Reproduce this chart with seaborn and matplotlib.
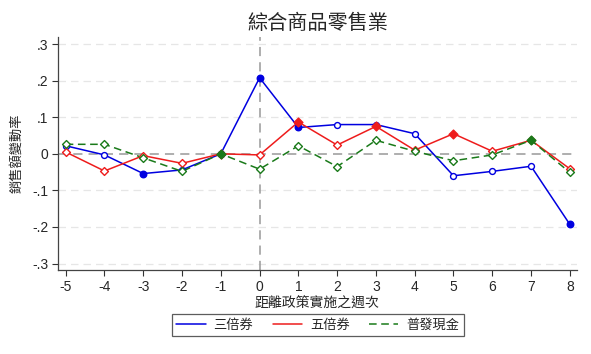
import matplotlib
matplotlib.use("Agg")
import matplotlib.pyplot as plt
import seaborn as sns
import pandas as pd
from matplotlib.lines import Line2D

weeks = [-5, -4, -3, -2, -1, 0, 1, 2, 3, 4, 5, 6, 7, 8]
triple = [0.022, -0.003, -0.054, -0.044, 0.0, 0.208, 0.072, 0.080, 0.080, 0.055, -0.060, -0.048, -0.034, -0.193]
quint = [0.005, -0.047, -0.005, -0.026, 0.0, -0.003, 0.087, 0.024, 0.075, 0.010, 0.055, 0.007, 0.037, -0.041]
cash = [0.026, 0.026, -0.011, -0.048, 0.0, -0.042, 0.022, -0.035, 0.037, 0.007, -0.019, -0.003, 0.037, -0.051]
triple_sig = [0, 0, 1, 0, 1, 1, 1, 0, 0, 0, 0, 0, 0, 1]
quint_sig = [0, 0, 0, 0, 1, 0, 1, 0, 1, 0, 1, 0, 0, 0]
cash_sig = [0, 0, 0, 0, 1, 0, 0, 0, 0, 0, 0, 0, 1, 0]
series_names = ["三倍券", "五倍券", "普發現金"]
ytick_vals = [-0.3, -0.2, -0.1, 0, 0.1, 0.2, 0.3]
ytick_labels = ["-.3", "-.2", "-.1", "0", ".1", ".2", ".3"]
title = "綜合商品零售業"
xlabel = "距離政策實施之週次"
ylabel = "銷售額變動率"

sns.set_style("white")
plt.rcParams["font.family"] = ["Liberation Sans", "Noto Sans CJK TC", "DejaVu Sans"]
cjk = ["Noto Sans CJK TC", "DejaVu Sans"]

fig = plt.figure(figsize=(5.91, 3.54), dpi=100)
ax = fig.add_axes([0.098, 0.237, 0.878, 0.658])

# grid
for v in ytick_vals:
    if v == 0:
        continue
    ax.axhline(v, color="#e6e6e6", lw=0.9, ls=(0, (6, 4)), zorder=0)
ax.axhline(0, color="#999999", lw=1.1, ls=(0, (6, 4)), zorder=1)
ax.axvline(0, color="#999999", lw=1.1, ls=(0, (6, 4)), zorder=1)

specs = [
    (triple, triple_sig, "#0000e0", "-", "o"),
    (quint, quint_sig, "#ee1c1c", "-", "D"),
    (cash, cash_sig, "#1a7a1a", (0, (5, 3)), "D"),
]
for name, (vals, sig, col, ls, mk) in zip(series_names, specs):
    df = pd.DataFrame({"week": weeks, "val": vals, "sig": sig})
    sns.lineplot(data=df, x="week", y="val", color=col, lw=1.1, ax=ax, zorder=3)
    ax.lines[-1].set_linestyle(ls)
    hol = df[df.sig == 0]
    fil = df[df.sig == 1]
    ms = 18 if mk == "o" else 16
    sns.scatterplot(data=hol, x="week", y="val", marker=mk, s=ms, facecolor="white",
                    edgecolor=col, linewidth=1.0, ax=ax, zorder=4)
    sns.scatterplot(data=fil, x="week", y="val", marker=mk, s=ms + 4, color=col,
                    edgecolor=col, linewidth=1.0, ax=ax, zorder=4)

ax.set_xlim(-5.2, 8.18)
ax.set_ylim(-0.318, 0.319)
ax.set_xticks(weeks)
ax.set_xticklabels([str(w) for w in weeks])
ax.set_yticks(ytick_vals)
ax.set_yticklabels(ytick_labels)
ax.tick_params(axis="both", labelsize=10, length=4, width=0.8, color="#333333",
               direction="out", bottom=True, left=True, pad=3)
for s in ["top", "right"]:
    ax.spines[s].set_visible(False)
for s in ["left", "bottom"]:
    ax.spines[s].set_color("#444444")
    ax.spines[s].set_linewidth(0.9)

ax.set_xlabel(xlabel, fontsize=10, family=cjk, labelpad=2)
ax.set_ylabel(ylabel, fontsize=9.5, family=cjk, labelpad=6)
fig.text(0.538, 0.935, title, ha="center", va="center", fontsize=14.5, family=cjk)

handles = [
    Line2D([], [], color="#0000e0", lw=1.1),
    Line2D([], [], color="#ee1c1c", lw=1.1),
    Line2D([], [], color="#1a7a1a", lw=1.1, ls=(0, (5, 3))),
]
leg = fig.legend(handles, series_names, loc="center", bbox_to_anchor=(0.538, 0.082),
                 ncol=3, frameon=True, fancybox=False, prop={"family": cjk, "size": 9.5},
                 handlelength=2.2, columnspacing=1.5, handletextpad=0.6,
                 borderpad=0.35, edgecolor="#333333")
leg.get_frame().set_linewidth(0.9)

fig.savefig("out.png", dpi=100, facecolor="white")
